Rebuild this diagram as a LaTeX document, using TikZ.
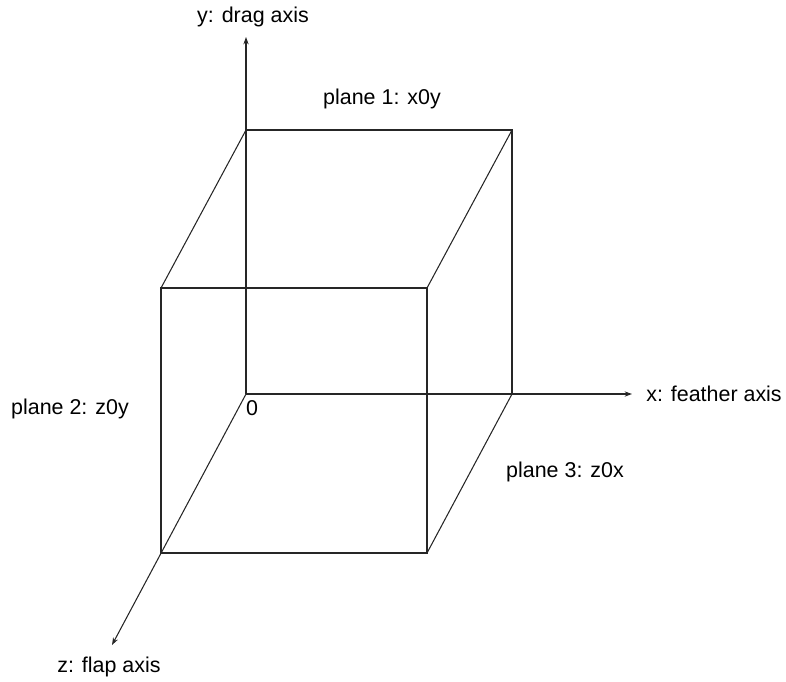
\documentclass[tikz,border=0pt]{standalone}
\usepackage{fontspec}
\setmainfont{Liberation Sans}
\usetikzlibrary{arrows.meta, positioning}

\begin{document}
\begin{tikzpicture}[
    x=0.02cm, y=-0.02cm,
    edge/.style={line width=0.6pt, black!85},
    axis/.style={edge, -{Stealth[length=4.2pt, width=3pt]}},
    lbl/.style={font=\fontsize{12.2}{14}\selectfont, inner sep=0pt}
]
\useasboundingbox (0,0) rectangle (786,681);

% Corners
\coordinate (O) at (246,394);
\coordinate (backTL) at (246,130);
\coordinate (backTR) at (512,130);
\coordinate (backBR) at (512,394);
\coordinate (frontTL) at (161,288);
\coordinate (frontTR) at (427,288);
\coordinate (frontBR) at (427,553);
\coordinate (frontBL) at (161,553);

% Axis ends
\coordinate (ytip) at (246,37);
\coordinate (xtip) at (632,394);
\coordinate (ztip) at (112,645);

% Labels
\node (ylabel) [lbl] at (253,17) {y: drag axis};
\node (xlabel) [lbl] at (714,394) {x: feather axis};
\node (zlabel) [lbl] at (109,667) {z: flap axis};
\node (plane1) [lbl] at (382,99) {plane 1: x0y};
\node (plane2) [lbl] at (70,409) {plane 2: z0y};
\node (plane3) [lbl] at (565,472) {plane 3: z0x};
\node (origin) [lbl] at (252,408) {0};

% Axes
\draw [axis] (O) -- (ytip);
\draw [axis] (O) -- (xtip);
\draw [axis] (O) -- (ztip);

% Cube
\draw [edge] (backTL) -- (backTR) -- (backBR);
\draw [edge] (frontTL) rectangle (frontBR);
\draw [edge] (backTL) -- (frontTL);
\draw [edge] (backTR) -- (frontTR);
\draw [edge] (backBR) -- (frontBR);

\end{tikzpicture}
\end{document}
